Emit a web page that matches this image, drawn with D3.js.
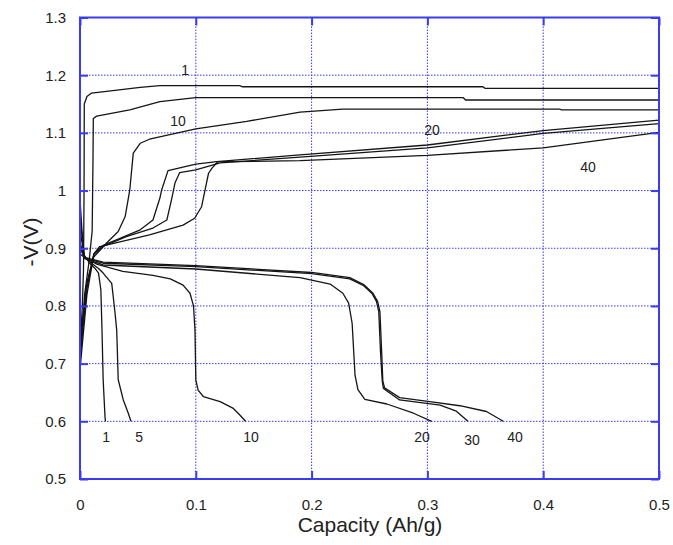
<!DOCTYPE html>
<html>
<head>
<meta charset="utf-8">
<script src="https://cdn.jsdelivr.net/npm/d3@7"></script>
<style>
  html, body { margin: 0; padding: 0; background: #fff; }
  svg { display: block; font-family: "Liberation Sans", Arial, sans-serif; }
</style>
</head>
<body>
<svg id="chart" width="673" height="545"></svg>
<script>
// ---------- data ----------
const xTicks = [0, 0.1, 0.2, 0.3, 0.4, 0.5];
const xTickLabels = ["0", "0.1", "0.2", "0.3", "0.4", "0.5"];
const yTicks = [0.5, 0.6, 0.7, 0.8, 0.9, 1.0, 1.1, 1.2, 1.3];
const yTickLabels = ["0.5", "0.6", "0.7", "0.8", "0.9", "1", "1.1", "1.2", "1.3"];

// charge curves  [capacity (Ah/g), -V (V)]
const charge1 = [[0,0.72],[0.002,0.80],[0.003,0.86],[0.0035,1.0],[0.0037,1.15],[0.006,1.163],[0.01,1.169],[0.052,1.179],[0.069,1.182],[0.138,1.182],[0.14,1.180],[0.348,1.180],[0.35,1.177],[0.5,1.177]];
const charge5 = [[0,0.70],[0.004,0.82],[0.008,0.88],[0.0105,0.93],[0.0112,1.05],[0.0115,1.125],[0.0144,1.129],[0.043,1.14],[0.069,1.154],[0.1,1.161],[0.331,1.161],[0.333,1.157],[0.5,1.157]];
const charge10 = [[0,0.74],[0.006,0.84],[0.012,0.885],[0.023,0.909],[0.033,0.929],[0.039,0.955],[0.043,1.001],[0.046,1.065],[0.052,1.082],[0.06,1.089],[0.1,1.107],[0.144,1.12],[0.19,1.136],[0.227,1.141],[0.414,1.141],[0.416,1.14],[0.5,1.14]];
const charge20 = [[0,0.69],[0.006,0.82],[0.012,0.89],[0.02,0.905],[0.0345,0.917],[0.052,0.932],[0.063,0.949],[0.069,0.987],[0.0705,1.001],[0.076,1.0345],[0.1,1.046],[0.118,1.05],[0.19,1.062],[0.3,1.079],[0.4,1.104],[0.5,1.122]];
const charge30 = [[0,0.71],[0.006,0.83],[0.012,0.89],[0.02,0.903],[0.04,0.92],[0.063,0.935],[0.075,0.949],[0.079,0.984],[0.082,1.013],[0.086,1.031],[0.1,1.036],[0.121,1.048],[0.19,1.058],[0.3,1.074],[0.4,1.099],[0.5,1.116]];
const charge40 = [[0,0.73],[0.006,0.84],[0.012,0.89],[0.017,0.903],[0.0345,0.911],[0.06,0.923],[0.089,0.94],[0.099,0.952],[0.105,0.972],[0.108,1.001],[0.111,1.03],[0.114,1.039],[0.119,1.05],[0.13,1.05],[0.19,1.052],[0.3,1.061],[0.4,1.074],[0.5,1.101]];

// discharge curves
const discharge1 = [[0,0.985],[0.003,0.89],[0.008,0.875],[0.013,0.865],[0.016,0.857],[0.018,0.828],[0.019,0.758],[0.02,0.672],[0.0216,0.608],[0.022,0.6]];
const discharge5 = [[0,0.95],[0.004,0.885],[0.01,0.874],[0.016,0.865],[0.02,0.857],[0.0274,0.839],[0.03,0.793],[0.0317,0.758],[0.033,0.672],[0.0374,0.637],[0.0417,0.614],[0.044,0.6]];
const discharge10 = [[0,0.93],[0.004,0.884],[0.015,0.872],[0.037,0.86],[0.063,0.853],[0.078,0.847],[0.089,0.836],[0.095,0.822],[0.098,0.80],[0.0993,0.758],[0.1,0.672],[0.102,0.654],[0.1065,0.643],[0.121,0.634],[0.132,0.623],[0.138,0.611],[0.143,0.6]];
const discharge20 = [[0,0.91],[0.004,0.882],[0.02,0.871],[0.1,0.864],[0.19,0.849],[0.216,0.838],[0.227,0.822],[0.232,0.805],[0.235,0.77],[0.2375,0.68],[0.24,0.655],[0.246,0.638],[0.265,0.630],[0.288,0.614],[0.3037,0.6]];
const discharge30 = [[0,0.90],[0.004,0.883],[0.02,0.874],[0.1,0.868],[0.2,0.856],[0.233,0.847],[0.245,0.835],[0.252,0.822],[0.256,0.808],[0.258,0.79],[0.2595,0.72],[0.261,0.67],[0.262,0.657],[0.276,0.637],[0.311,0.628],[0.325,0.6175],[0.335,0.6]];
const discharge40 = [[0,0.89],[0.004,0.884],[0.02,0.876],[0.1,0.870],[0.2,0.858],[0.233,0.849],[0.245,0.837],[0.253,0.822],[0.257,0.808],[0.259,0.79],[0.2605,0.72],[0.2615,0.67],[0.263,0.658],[0.276,0.641],[0.302,0.634],[0.328,0.627],[0.351,0.617],[0.3655,0.6]];

const curves = [charge1, charge5, charge10, charge20, charge30, charge40,
                discharge1, discharge5, discharge10, discharge20, discharge30, discharge40];

// cycle-number annotations [text, capacity, V]
const curveLabels = [
  ["1", 0.0907, 1.209], ["10", 0.0846, 1.121], ["20", 0.304, 1.104], ["40", 0.4387, 1.040],
  ["1", 0.0225, 0.573], ["5", 0.051, 0.573], ["10", 0.1477, 0.573],
  ["20", 0.2953, 0.573], ["30", 0.3385, 0.567], ["40", 0.3756, 0.573]
];

// ---------- chart ----------
const svg = d3.select("#chart");
const L = 80, R = 659, T = 17.5, B = 479;
const x = d3.scaleLinear().domain([0, 0.5]).range([L, R]);
const y = d3.scaleLinear().domain([0.5, 1.3]).range([B, T]);
const blue = "#3b3bf5";

// grid (dotted)
const grid = svg.append("g");
grid.selectAll("line.vx").data(xTicks.slice(1, -1)).join("line")
  .attr("x1", d => x(d)).attr("x2", d => x(d)).attr("y1", T).attr("y2", B)
  .attr("stroke", blue).attr("stroke-width", 1).attr("stroke-dasharray", "1.5,1.5");
grid.selectAll("line.hy").data(yTicks.slice(1, -1)).join("line")
  .attr("x1", L).attr("x2", R).attr("y1", d => y(d)).attr("y2", d => y(d))
  .attr("stroke", blue).attr("stroke-width", 1).attr("stroke-dasharray", "1.5,1.5");

// curves
const line = d3.line().x(d => x(d[0])).y(d => y(d[1]));
svg.append("g").selectAll("path").data(curves).join("path")
  .attr("d", line).attr("fill", "none").attr("stroke", "#151515")
  .attr("stroke-width", 1.3).attr("stroke-linejoin", "round");

// axes with inside ticks
function styleAxis(g, showText) {
  g.select(".domain").remove();
  g.selectAll(".tick line").attr("stroke", blue).attr("stroke-width", 2);
  g.selectAll(".tick text").attr("fill", "#222").attr("font-size", 15)
    .attr("font-family", "\"Liberation Sans\", Arial, sans-serif");
  if (!showText) g.selectAll(".tick text").remove();
}
svg.append("g").attr("transform", `translate(0,${B})`)
  .call(d3.axisBottom(x).tickValues(xTicks).tickFormat((d, i) => xTickLabels[i]).tickSize(-8).tickPadding(20))
  .call(g => styleAxis(g, true));
svg.append("g").attr("transform", `translate(0,${T})`)
  .call(d3.axisTop(x).tickValues(xTicks).tickSize(-8))
  .call(g => styleAxis(g, false));
svg.append("g").attr("transform", `translate(${L},0)`)
  .call(d3.axisLeft(y).tickValues(yTicks).tickFormat((d, i) => yTickLabels[i]).tickSize(-8).tickPadding(14))
  .call(g => styleAxis(g, true));
svg.append("g").attr("transform", `translate(${R},0)`)
  .call(d3.axisRight(y).tickValues(yTicks).tickSize(-8))
  .call(g => styleAxis(g, false));

// frame
svg.append("rect").attr("x", L).attr("y", T).attr("width", R - L).attr("height", B - T)
  .attr("fill", "none").attr("stroke", blue).attr("stroke-width", 2);

// curve labels
svg.append("g").selectAll("text").data(curveLabels).join("text")
  .attr("x", d => x(d[1])).attr("y", d => y(d[2])).attr("dy", "0.35em")
  .attr("text-anchor", "middle").attr("font-size", 14).attr("fill", "#222")
  .text(d => d[0]);

// axis titles
svg.append("text").attr("x", 370).attr("y", 532).attr("text-anchor", "middle")
  .attr("font-size", 21).attr("fill", "#222").text("Capacity (Ah/g)");
svg.append("text").attr("transform", "translate(38,242) rotate(-90)").attr("text-anchor", "middle")
  .attr("font-size", 21).attr("fill", "#222").text("-V(V)");
</script>
</body>
</html>
